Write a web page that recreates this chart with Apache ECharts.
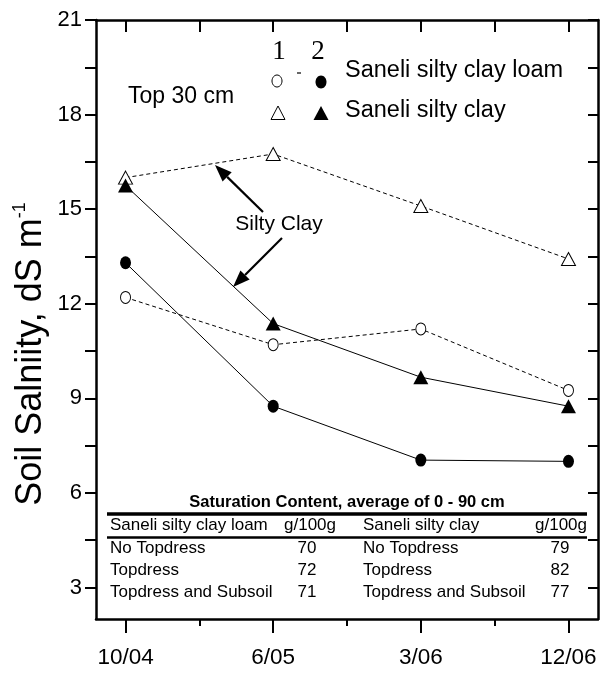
<!DOCTYPE html>
<html>
<head>
<meta charset="utf-8">
<script src="https://cdn.jsdelivr.net/npm/echarts@6/dist/echarts.min.js"></script>
<style>
html,body{margin:0;padding:0;background:#fff;}
#chart{width:601px;height:673px;}
</style>
</head>
<body>
<div id="chart"></div>
<script>
// ---- data ----
const dates = ['10/04', '6/05', '3/06', '12/06'];
const loam1 = [12.2, 10.7, 11.2, 9.25];   // open circle, dashed
const loam2 = [13.3, 8.75, 7.04, 7.0];    // filled circle, solid
const clay1 = [16.0, 16.75, 15.1, 13.42]; // open triangle, dashed
const clay2 = [15.75, 11.37, 9.67, 8.75]; // filled triangle, solid
const yTickLabels = [3, 6, 9, 12, 15, 18, 21];
const yMinorTicks = [3, 4.5, 6, 7.5, 9, 10.5, 12, 13.5, 15, 16.5, 18, 19.5, 21];
const xMajor = [0, 1, 2, 3];
const xMinor = [0.5, 1.5, 2.5];
const legendNames = ['Saneli silty clay loam', 'Saneli silty clay'];
const tableTitle = 'Saturation Content, average of 0 - 90 cm';
const tableRows = ['No Topdress', 'Topdress', 'Topdress and Subsoil'];
const loamSat = [70, 72, 71];
const claySat = [79, 82, 77];

const FONT = '"Liberation Sans", Arial, Helvetica, sans-serif';
const chart = echarts.init(document.getElementById('chart'), null, {renderer: 'canvas'});

function pts(arr) { return arr.map((v, i) => [i, v]); }

function arrow(x1, y1, x2, y2) {
  const dx = x2 - x1, dy = y2 - y1, len = Math.sqrt(dx*dx + dy*dy);
  const ux = dx/len, uy = dy/len, L = 17, W = 6.5;
  const bx = x2 - ux*L, by = y2 - uy*L;
  return [
    {type: 'line', shape: {x1: x1, y1: y1, x2: bx, y2: by}, style: {stroke: '#000', lineWidth: 2.2}},
    {type: 'polygon', shape: {points: [[x2, y2], [bx - uy*W, by + ux*W], [bx + uy*W, by - ux*W]]}, style: {fill: '#000'}}
  ];
}

const graphics = [];
// y axis title
graphics.push({
  type: 'text', x: 30, y: 354, rotation: Math.PI/2,
  style: {
    text: '{a|Soil Salniity, dS m}{b|-1}', align: 'center', verticalAlign: 'middle',
    rich: {
      a: {fontSize: 36, fontFamily: FONT, fill: '#000', lineHeight: 38, verticalAlign: 'bottom'},
      b: {fontSize: 18, fontFamily: FONT, fill: '#000', lineHeight: 38, verticalAlign: 'top', padding: [0,0,15,0]}
    }
  }
});
// annotations
graphics.push({type: 'text', x: 128, y: 97, style: {text: 'Top 30 cm', font: '23px ' + FONT, fill: '#000', align: 'left', verticalAlign: 'middle'}});
graphics.push({type: 'text', x: 279, y: 224, style: {text: 'Silty Clay', font: '21px ' + FONT, fill: '#000', align: 'center', verticalAlign: 'middle'}});
arrow(263, 212, 215, 165).forEach(g => graphics.push(g));
arrow(282, 238, 233, 287).forEach(g => graphics.push(g));
// legend
graphics.push({type: 'text', x: 279, y: 52, style: {text: '1', font: '27px "Liberation Serif", "Times New Roman", serif', fill: '#000', align: 'center', verticalAlign: 'middle'}});
graphics.push({type: 'text', x: 318, y: 52, style: {text: '2', font: '27px "Liberation Serif", "Times New Roman", serif', fill: '#000', align: 'center', verticalAlign: 'middle'}});
graphics.push({type: 'line', shape: {x1: 297, y1: 73, x2: 301, y2: 73}, style: {stroke: '#000', lineWidth: 1.2}});
graphics.push({type: 'ellipse', shape: {cx: 277, cy: 81, rx: 5, ry: 6}, style: {fill: '#fff', stroke: '#000', lineWidth: 1}});
graphics.push({type: 'ellipse', shape: {cx: 321, cy: 82, rx: 5.5, ry: 6.5}, style: {fill: '#000'}});
graphics.push({type: 'polygon', shape: {points: [[278, 106], [285, 119.5], [271, 119.5]]}, style: {fill: '#fff', stroke: '#000', lineWidth: 1}});
graphics.push({type: 'polygon', shape: {points: [[321, 106], [328.5, 120], [313.5, 120]]}, style: {fill: '#000'}});
graphics.push({type: 'text', x: 345, y: 71, style: {text: legendNames[0], font: '23.5px ' + FONT, fill: '#000', align: 'left', verticalAlign: 'middle'}});
graphics.push({type: 'text', x: 345, y: 111, style: {text: legendNames[1], font: '23.5px ' + FONT, fill: '#000', align: 'left', verticalAlign: 'middle'}});
// table
graphics.push({type: 'text', x: 347, y: 502, style: {text: tableTitle, font: 'bold 16.5px ' + FONT, fill: '#000', align: 'center', verticalAlign: 'middle'}});
graphics.push({type: 'line', shape: {x1: 107, y1: 514, x2: 587, y2: 514}, style: {stroke: '#000', lineWidth: 3.5}});
graphics.push({type: 'line', shape: {x1: 107, y1: 537.5, x2: 587, y2: 537.5}, style: {stroke: '#000', lineWidth: 2.5}});
const tf = '17px ' + FONT;
graphics.push({type: 'text', x: 110, y: 525, style: {text: legendNames[0], font: tf, fill: '#000', align: 'left', verticalAlign: 'middle'}});
graphics.push({type: 'text', x: 336, y: 525, style: {text: 'g/100g', font: tf, fill: '#000', align: 'right', verticalAlign: 'middle'}});
graphics.push({type: 'text', x: 363, y: 525, style: {text: legendNames[1], font: tf, fill: '#000', align: 'left', verticalAlign: 'middle'}});
graphics.push({type: 'text', x: 587, y: 525, style: {text: 'g/100g', font: tf, fill: '#000', align: 'right', verticalAlign: 'middle'}});
const rowY = [548, 570, 592];
tableRows.forEach((r, i) => {
  graphics.push({type: 'text', x: 110, y: rowY[i], style: {text: r, font: tf, fill: '#000', align: 'left', verticalAlign: 'middle'}});
  graphics.push({type: 'text', x: 307, y: rowY[i], style: {text: String(loamSat[i]), font: tf, fill: '#000', align: 'center', verticalAlign: 'middle'}});
  graphics.push({type: 'text', x: 363, y: rowY[i], style: {text: r, font: tf, fill: '#000', align: 'left', verticalAlign: 'middle'}});
  graphics.push({type: 'text', x: 560, y: rowY[i], style: {text: String(claySat[i]), font: tf, fill: '#000', align: 'center', verticalAlign: 'middle'}});
});

const black = '#000';
const baseX = {type: 'value', min: -0.2, max: 3.2, splitLine: {show: false}, gridIndex: 0};
const baseY = {type: 'value', min: 2, max: 21, splitLine: {show: false}, gridIndex: 0};

const option = {
  animation: false,
  backgroundColor: '#fff',
  textStyle: {fontFamily: FONT},
  grid: {left: 96, right: 3, top: 20, bottom: 54, containLabel: false},
  xAxis: [
    Object.assign({}, baseX, {
      position: 'bottom',
      axisLine: {show: true, onZero: false, lineStyle: {color: black, width: 2.5}},
      axisTick: {show: true, inside: false, length: 14, customValues: xMajor, lineStyle: {color: black, width: 2}},
      axisLabel: {show: true, customValues: xMajor, margin: 27, fontSize: 22.5, color: black, fontFamily: FONT,
        formatter: v => dates[Math.round(v)]}
    }),
    Object.assign({}, baseX, {
      position: 'bottom',
      axisLine: {show: false, onZero: false},
      axisTick: {show: true, inside: false, length: 7, customValues: xMinor, lineStyle: {color: black, width: 2}},
      axisLabel: {show: false}
    }),
    Object.assign({}, baseX, {
      position: 'top',
      axisLine: {show: true, onZero: false, lineStyle: {color: black, width: 2.5}},
      axisTick: {show: true, inside: true, length: 12, customValues: xMajor.concat(xMinor), lineStyle: {color: black, width: 2}},
      axisLabel: {show: false}
    })
  ],
  yAxis: [
    Object.assign({}, baseY, {
      position: 'left',
      axisLine: {show: true, onZero: false, lineStyle: {color: black, width: 2.5}},
      axisTick: {show: true, inside: false, length: 11, customValues: yMinorTicks, lineStyle: {color: black, width: 2}},
      axisLabel: {show: true, customValues: yTickLabels, margin: 14, fontSize: 22, color: black, fontFamily: FONT}
    }),
    Object.assign({}, baseY, {
      position: 'right',
      axisLine: {show: true, onZero: false, lineStyle: {color: black, width: 2.5}},
      axisTick: {show: true, inside: true, length: 10, customValues: yMinorTicks, lineStyle: {color: black, width: 2}},
      axisLabel: {show: false}
    })
  ],
  series: [
    {name: legendNames[0] + ' 1', type: 'line', data: pts(loam1), symbol: 'circle', symbolSize: [10, 12],
      lineStyle: {color: black, width: 1, type: [4, 3]}, itemStyle: {color: '#fff', borderColor: black, borderWidth: 1}, z: 3},
    {name: legendNames[0] + ' 2', type: 'line', data: pts(loam2), symbol: 'circle', symbolSize: [11, 13],
      lineStyle: {color: black, width: 1}, itemStyle: {color: black, borderColor: black, borderWidth: 0}, z: 4},
    {name: legendNames[1] + ' 1', type: 'line', data: pts(clay1), symbol: 'triangle', symbolSize: [14, 13],
      lineStyle: {color: black, width: 1, type: [4, 3]}, itemStyle: {color: '#fff', borderColor: black, borderWidth: 1}, z: 3},
    {name: legendNames[1] + ' 2', type: 'line', data: pts(clay2), symbol: 'triangle', symbolSize: [15, 14],
      lineStyle: {color: black, width: 1}, itemStyle: {color: black, borderColor: black, borderWidth: 0}, z: 4}
  ],
  graphic: graphics
};
chart.setOption(option);
</script>
</body>
</html>
